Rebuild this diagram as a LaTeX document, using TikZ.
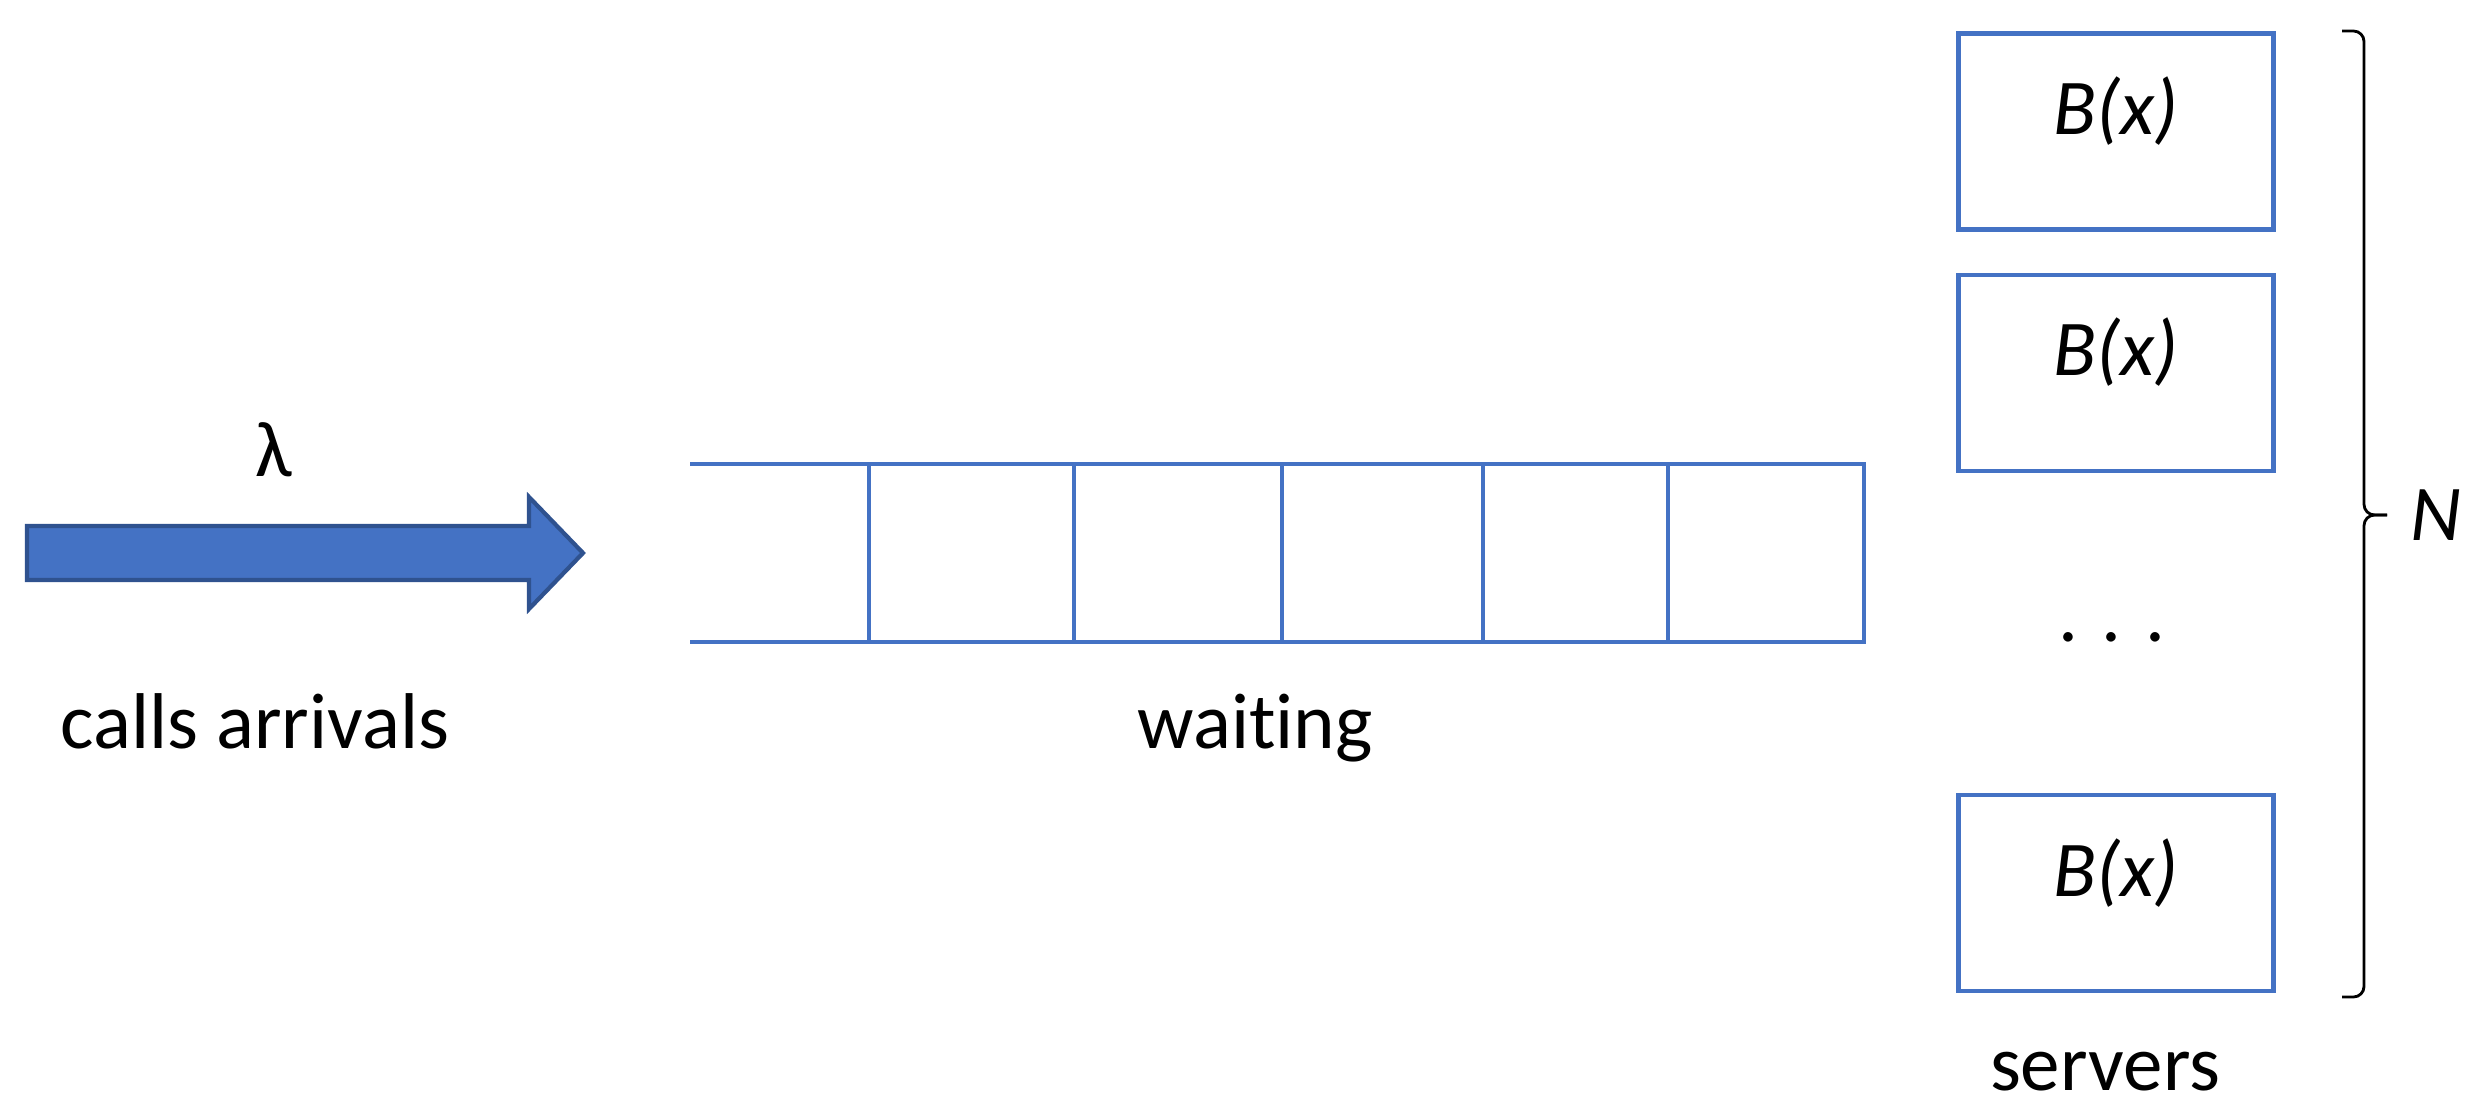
\documentclass[tikz,border=0pt]{standalone}
\usepackage{fontspec}
\setmainfont{Carlito}[Ligatures=NoCommon]
\definecolor{qblue}{HTML}{4472C4}
\definecolor{qborder}{HTML}{2F528F}

\begin{document}
\begin{tikzpicture}[x=1cm,y=-1cm,font=\fontsize{22.5}{27}\selectfont]
    \tikzstyle{srv} = [draw=qblue, line width=1.25pt,
    minimum width=3.15cm, minimum height=1.96cm, inner sep=0pt];
    \tikzstyle{lbl} = [anchor=base, inner sep=0pt];
    \tikzstyle{q} = [draw=qblue, line width=1.4pt];
    \tikzstyle{br} = [black, line width=0.8pt, rounded corners=3pt];

    \useasboundingbox (0,0) rectangle (24.71,11.09);

    % arrivals
    \filldraw[fill=qblue, draw=qborder, line width=1.2pt]
        (0.27,5.26) -- (5.29,5.26) -- (5.29,4.97) -- (5.83,5.53)
        -- (5.29,6.09) -- (5.29,5.80) -- (0.27,5.80) -- cycle;
    \node[lbl] (lam) at (2.74,4.77) {λ};
    \node[lbl] (arr) at (2.55,7.48) {calls arrivals};

    % queue
    \draw[q] (6.90,4.64) -- (18.64,4.64) -- (18.64,6.42) -- (6.90,6.42);
    \foreach \x in {8.69,10.74,12.82,14.83,16.68}
        \draw[q] (\x,4.64) -- (\x,6.42);
    \node[lbl] (wait) at (12.55,7.48) {waiting};

    % servers
    \foreach \n/\y in {1/1.315,2/3.73,3/8.93}{
        \node[srv] (s\n) at (21.16,\y) {};
        \node[lbl] (b\n) at ([yshift=-0.03cm]s\n.center) {\itshape B(x)};
    }
    \node[lbl] (dots) at (21.12,6.41) {. . .};
    \node[lbl] (srvs) at (21.05,10.90) {servers};

    % brace
    \draw[br] (23.42,0.31) -- (23.64,0.31) -- (23.64,5.15) -- (23.87,5.15);
    \draw[br] (23.87,5.15) -- (23.64,5.15) -- (23.64,9.97) -- (23.42,9.97);
    \node[lbl] (cnt) at (24.36,5.40) {\itshape N};

\end{tikzpicture}
\end{document}
